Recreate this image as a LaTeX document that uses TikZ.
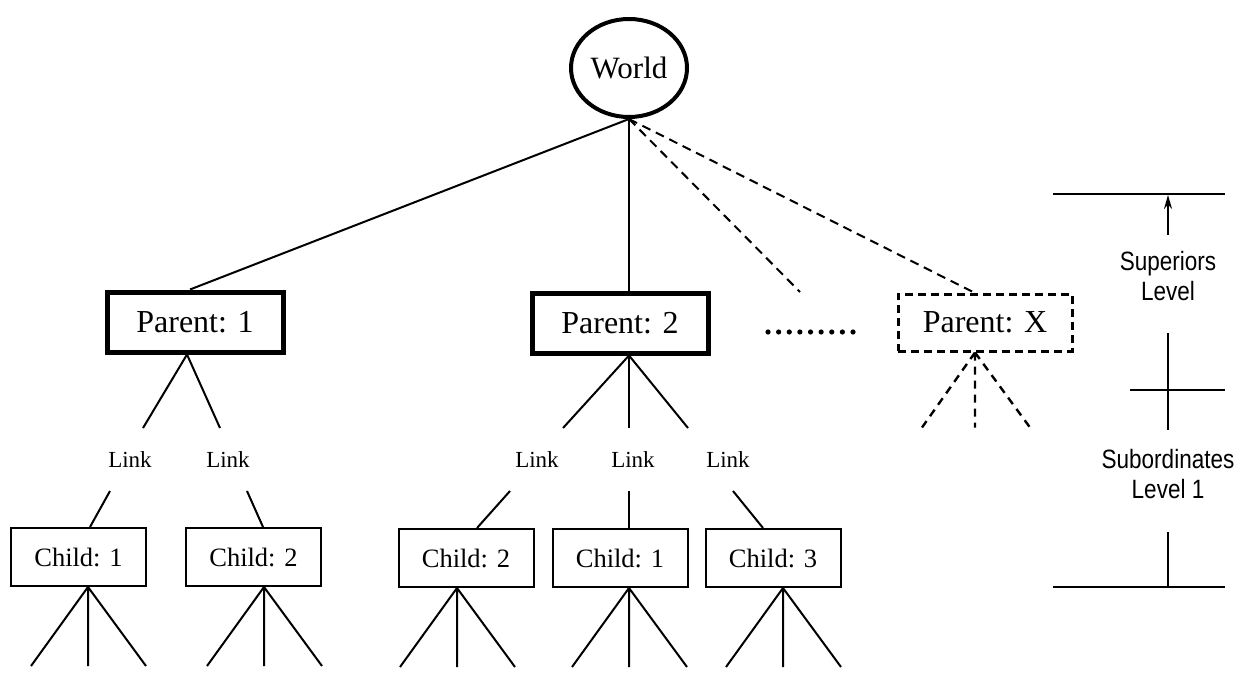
\documentclass[tikz,border=0pt]{standalone}
\usepackage{fontspec}
\setmainfont{Liberation Serif}
\newfontfamily\levelfont{Liberation Sans}[FakeStretch=0.85]
\usetikzlibrary{shapes.geometric,arrows.meta}
\begin{document}
\begin{tikzpicture}[x=0.5pt,y=-0.5pt,
  line width=1pt,
  root/.style={ellipse,draw,line width=2pt,minimum width=58pt,minimum height=49pt,inner sep=0pt,
    font=\fontsize{15.5pt}{18pt}\selectfont},
  parentbox/.style={rectangle,draw,line width=2.5pt,minimum width=88pt,minimum height=30pt,inner sep=0pt,
    font=\fontsize{16pt}{19pt}\selectfont},
  openbox/.style={parentbox,line width=1.5pt,dash pattern=on 4pt off 2.5pt,minimum width=87pt,minimum height=28.5pt},
  childbox/.style={rectangle,draw,line width=1pt,minimum width=67.5pt,minimum height=29pt,inner sep=0pt,
    font=\fontsize{13.25pt}{16pt}\selectfont},
  linklabel/.style={inner sep=0pt,minimum height=30.5pt,font=\fontsize{11.5pt}{14pt}\selectfont},
  rootdash/.style={dash pattern=on 4.5pt off 3pt},
  fandash/.style={line width=1.2pt,dash pattern=on 4pt off 3pt},
  levelnote/.style={align=center,inner sep=0pt,font=\levelfont\fontsize{13.25pt}{15pt}\selectfont},
]
\useasboundingbox (0,0) rectangle (1240,684);

% root and first level
\node[root] (world) at (629,68) {World};
\node[parentbox] (p1) at (195,322) {Parent: 1};
\node[parentbox] (p2) at (620,323) {Parent: 2};
\node[openbox] (px) at (985,322.5) {Parent: X};
\coordinate (xgap) at (800,292);

% link labels
\node[linklabel] (l11) at (130,459.5) {Link};
\node[linklabel] (l12) at (228,459.5) {Link};
\node[linklabel] (l21) at (537,459.5) {Link};
\node[linklabel] (l22) at (633,459.5) {Link};
\node[linklabel] (l23) at (728,459.5) {Link};

% children
\node[childbox] (c11) at (78.5,557) {Child: 1};
\node[childbox] (c12) at (253.5,557) {Child: 2};
\node[childbox] (c21) at (466,558) {Child: 2};
\node[childbox] (c22) at (620,558) {Child: 1};
\node[childbox] (c23) at (773,558) {Child: 3};

% world to parents
\draw (world.south) -- ([xshift=-2.5pt]p1.north);
\draw (world.south) -- ([xshift=4.5pt]p2.north);
\draw[rootdash] (world.south) -- (xgap);
\draw[rootdash] (world.south) -- ([xshift=-5.5pt]px.north);

% parent 1 branch
\draw ([xshift=-4pt]p1.south) -- ([xshift=6.5pt]l11.north);
\draw ([xshift=-4pt]p1.south) -- ([xshift=-4pt]l12.north);
\draw ([xshift=-10pt]l11.south) -- ([xshift=5.75pt]c11.north);
\draw ([xshift=9.5pt]l12.south) -- ([xshift=4.75pt]c12.north);

% parent 2 branch
\draw ([xshift=4.5pt]p2.south) -- ([xshift=13pt]l21.north);
\draw ([xshift=4.5pt]p2.south) -- ([xshift=-2pt]l22.north);
\draw ([xshift=4.5pt]p2.south) -- ([xshift=-20pt]l23.north);
\draw ([xshift=-13.5pt]l21.south) -- ([xshift=5.5pt]c21.north);
\draw ([xshift=-2pt]l22.south) -- ([xshift=4.5pt]c22.north);
\draw ([xshift=2.5pt]l23.south) -- ([xshift=-5pt]c23.north);

% open-ended fans below the children
\foreach \n/\s in {c11/4.75pt, c12/5.25pt, c21/-4.5pt, c22/4.5pt, c23/5pt}
  \draw ([xshift=\s]\n.south) -- ++(-57,79)
        ([xshift=\s]\n.south) -- ++(0,79)
        ([xshift=\s]\n.south) -- ++(58,79);

% dashed fan below parent X
\draw[fandash] ([xshift=-5pt]px.south) -- ++(-53,75)
               ([xshift=-5pt]px.south) -- ++(0,75)
               ([xshift=-5pt]px.south) -- ++(55,75);

% ellipsis between parents
\foreach \i in {0,...,8}
  \fill (768+10.625*\i,332) circle (1.3pt);

% level markers
\draw (1053,194) -- (1225,194);
\draw (1130,390) -- (1225,390);
\draw (1053,587) -- (1225,587);
\draw[-{Stealth[length=7pt,width=4pt]}] (1168,235) -- (1168,195);
\draw (1168,333) -- (1168,430);
\draw (1168,532) -- (1168,587);
\node[levelnote] (sup) at (1168,276) {Superiors\\Level};
\node[levelnote] (sub) at (1168,474) {Subordinates\\Level 1};
\end{tikzpicture}
\end{document}
